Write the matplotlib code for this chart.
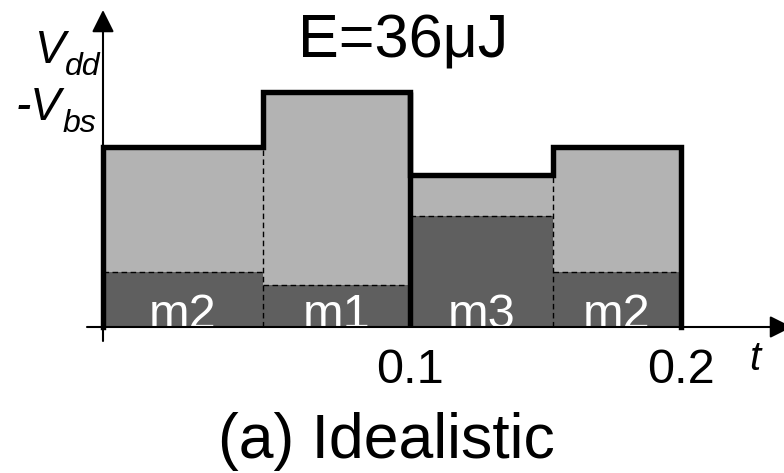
import matplotlib
matplotlib.use("Agg")
import matplotlib.pyplot as plt
import numpy as np

plt.rcParams['font.family'] = ['Liberation Sans', 'DejaVu Sans']

# ---- data (schematic) ----
modes = ["m2", "m1", "m3", "m2"]
durations = [0.0521, 0.0479, 0.0466, 0.0417]      # segment widths in t
total_level = [1.80, 2.35, 1.52, 1.80]            # Vdd - Vbs per segment
dark_level = [0.55, 0.42, 1.11, 0.55]             # lower (dark) part
tick_labels = ["0.1", "0.2"]
title_text = "E=36\u03bcJ"
caption = "(a) Idealistic"

DARK = "#5f5f5f"
LIGHT = "#b3b3b3"

PX = 3070.0  # pixels per t unit (layout scale)

fig = plt.figure(figsize=(7.84, 4.73), dpi=100)
ax = fig.add_axes([0, 0, 1, 1])
ax.set_xlim(-103 / PX, (784 - 103) / PX)
ax.set_ylim(-1.46, 3.27)
ax.axis("off")

edges = np.concatenate([[0], np.cumsum(durations)])
left = edges[:-1]
total = np.array(total_level)
dark = np.array(dark_level)

ax.bar(left, dark, width=durations, align="edge", color=DARK, linewidth=0, zorder=1)
ax.bar(left, total - dark, bottom=dark, width=durations, align="edge",
       color=LIGHT, linewidth=0, zorder=1)

# dashed boundary between dark and light parts
ax.hlines(dark, left, edges[1:], colors="k", linestyles=(0, (4, 2.5)), lw=1.0, zorder=2)
# dashed vertical separators
for i in (1, 3):
    ax.vlines(edges[i], 0, min(total[i - 1], total[i]), colors="k",
              linestyles=(0, (4, 2.5)), lw=1.0, zorder=2)

# thick outline
xs = [edges[0]]
ys = [0]
for i in range(len(durations)):
    xs += [edges[i], edges[i + 1]]
    ys += [total[i], total[i]]
xs += [edges[-1]]
ys += [0]
ax.plot(xs, ys, color="k", lw=3.9, solid_joinstyle="miter", zorder=3)
ax.vlines(edges[2], 0, max(total[1], total[2]), colors="k", lw=3.9, zorder=3)

# mode labels
for i, m in enumerate(modes):
    ax.text((edges[i] + edges[i + 1]) / 2, -0.01, m, color="white", fontsize=35,
            ha="center", va="baseline", zorder=4)

# axes with arrows
ax.annotate("", xy=(0, 3.17), xytext=(0, -0.14), annotation_clip=False,
            arrowprops=dict(arrowstyle="-|>", mutation_scale=34, lw=1.5, color="k",
                            shrinkA=0, shrinkB=0), zorder=5)
ax.annotate("", xy=((792 - 103) / PX, 0), xytext=((87 - 103) / PX, 0),
            annotation_clip=False,
            arrowprops=dict(arrowstyle="-|>", mutation_scale=34, lw=1.5, color="k",
                            shrinkA=0, shrinkB=0), zorder=5)

# tick labels
for pos, lab in zip([edges[2], edges[4]], tick_labels):
    ax.text(pos, -0.56, lab, fontsize=35, ha="center", va="baseline")

ax.text((755 - 103) / PX, -0.43, "t", fontsize=29, style="italic",
        ha="center", va="baseline")

# y label
ax.text((65 - 103) / PX, 2.64, "V", fontsize=33, style="italic", ha="right", va="baseline")
ax.text((65 - 103) / PX, 2.52, "dd", fontsize=23, style="italic", ha="left", va="baseline")
ax.text((62 - 103) / PX, 2.07, "-V", fontsize=33, style="italic", ha="right", va="baseline")
ax.text((63 - 103) / PX, 1.95, "bs", fontsize=23, style="italic", ha="left", va="baseline")

# title and caption
ax.text((403 - 103) / PX, 2.70, title_text, fontsize=44, ha="center", va="baseline")
ax.text((386 - 103) / PX, -1.31, caption, fontsize=45, ha="center", va="baseline")

fig.savefig("out.png", dpi=100)
